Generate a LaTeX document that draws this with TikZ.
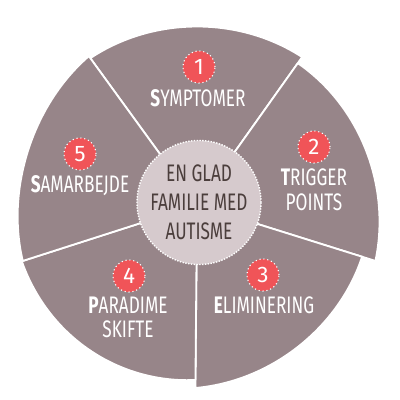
\documentclass[tikz,border=0pt]{standalone}
\usepackage{fontspec}
\newfontfamily\slicefont[FakeStretch=0.72]{Fira Sans}
\newfontfamily\badgefont{Fira Sans}

\definecolor{slicegrey}{HTML}{978589}
\definecolor{hubpink}{HTML}{D6CACD}
\definecolor{hubtext}{HTML}{4B3E3C}
\definecolor{badgered}{HTML}{F05458}

% slice: from angle #1 to #2, radius #3 -> #4, bulge #5
\newcommand{\drawslice}[5]{%
  \path[slice] (0,0) -- plot[domain=#1:#2,samples=48,variable=\t]
    (\t:{#3+(#4-#3)*(\t-#1)/(#2-#1)+#5*sin(180*(\t-#1)/(#2-#1))}) -- cycle;}

\begin{document}
\begin{tikzpicture}[x=0.025cm,y=0.025cm,
    slice/.style={fill=slicegrey,draw=white,line width=1.3pt,line join=round},
    hub/.style={circle,fill=hubpink,draw=white,densely dotted,line width=1pt,
                minimum size=3.1cm,inner sep=0pt,text=hubtext,align=center,
                font=\slicefont\fontsize{17}{20.5}\selectfont},
    badge/.style={circle,fill=badgered,draw=white,dotted,line width=0.8pt,
                  minimum size=0.8cm,inner sep=0pt,text=white,
                  font=\badgefont\fontsize{16}{16}\selectfont},
    label/.style={text=white,align=center,
                  font=\slicefont\fontsize{17}{17.5}\selectfont}]
  \useasboundingbox (-197,-195) rectangle (203,205);

  %slices%
  \drawslice{54.6}{126}{181.5}{181.5}{-3}
  \drawslice{342.6}{414.6}{187}{174}{-3}
  \drawslice{269.5}{342.6}{183}{173}{-4}
  \drawslice{197.8}{269.5}{184}{175}{1}
  \drawslice{126}{197.8}{184}{183}{-6}

  \node[hub] (hub) at (2,2.5) {EN GLAD\\FAMILIE MED\\AUTISME};

  \node[badge] (b1) at (2,138) {1};
  \node[label] (l1) at (1,107) {\textbf{S}YMPTOMER};
  \node[badge] (b2) at (117,58) {2};
  \node[label] (l2) at (117,15) {\textbf{T}RIGGER\\POINTS};
  \node[badge] (b3) at (66,-70) {3};
  \node[label] (l3) at (67,-100) {\textbf{E}LIMINERING};
  \node[badge] (b4) at (-68,-71) {4};
  \node[label] (l4) at (-69,-112.5) {\textbf{P}ARADIME\\SKIFTE};
  \node[badge] (b5) at (-117,51) {5};
  \node[label] (l5) at (-117,19) {\textbf{S}AMARBEJDE};
\end{tikzpicture}
\end{document}
